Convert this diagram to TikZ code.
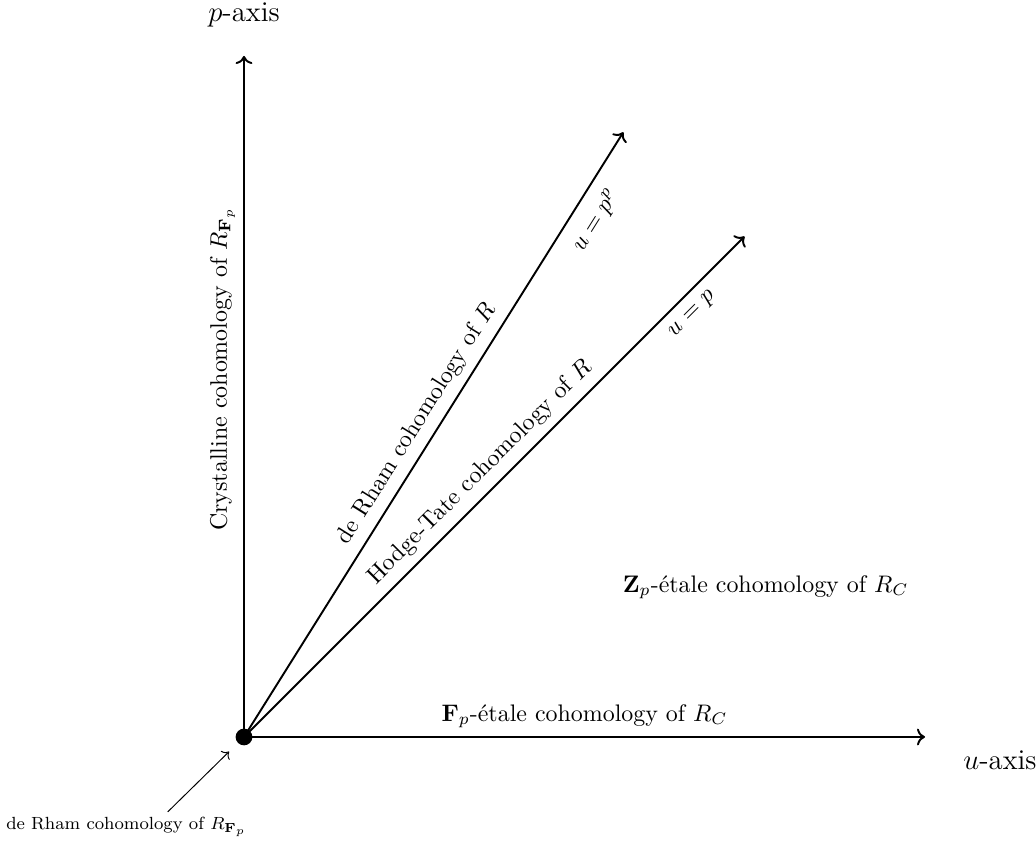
\documentclass[tikz,border=0pt]{standalone}
\usepackage{amsmath}
\usepackage{amssymb}
\usetikzlibrary{arrows.meta,positioning}

\tikzset{
  axisline/.style={thick,->},
  rayline/.style={thick,->},
  axislabel/.style={font=\large},
}

\begin{document}
\begin{tikzpicture}[x=1cm,y=1cm]
  \useasboundingbox (-3.583,-1.586) rectangle (11.630,10.822);

  % origin and the two axes
  \node[circle, fill=black, inner sep=0pt, minimum size=7pt] (O) at (0,0) {};
  \coordinate (uend) at (10,0);
  \coordinate (pend) at (0,10);
  \draw[axisline] (O.center) -- (uend)
    node[midway, above] (fpet) {$\mathbf{F}_p$-\'etale cohomology of $R_C$};
  \draw[axisline] (O.center) -- (pend)
    node[pos=0.54, above, sloped] (crys) {Crystalline cohomology of $R_{\mathbf{F}_p}$};
  \node[axislabel] (ulab) at (11.1,-0.34) {$u$-axis};
  \node[axislabel] (plab) at (0,10.6) {$p$-axis};

  % the two rays
  \coordinate (ppend) at (5.57,8.88);
  \coordinate (pend2) at (7.35,7.35);
  \draw[rayline] (O.center) -- (ppend)
    node[midway, above, sloped] (drham) {de Rham cohomology of $R$}
    node[pos=0.875, below=2pt, sloped] (upp) {$u=p^p$};
  \draw[rayline] (O.center) -- (pend2)
    node[midway, above, sloped] (ht) {Hodge-Tate cohomology of $R$}
    node[pos=0.87, below=1pt, sloped] (up) {$u=p$};

  \node (zpet) at (7.66,2.2) {$\mathbf{Z}_p$-\'etale cohomology of $R_C$};

  % label for the origin
  \node[font=\footnotesize, scale=0.92] (drfp) at (-1.73,-1.32) {de Rham cohomology of $R_{\mathbf{F}_p}$};
  \coordinate (tail) at (-1.12,-1.10);
  \draw[->, shorten >=5pt] (tail) -- (O);
\end{tikzpicture}
\end{document}
